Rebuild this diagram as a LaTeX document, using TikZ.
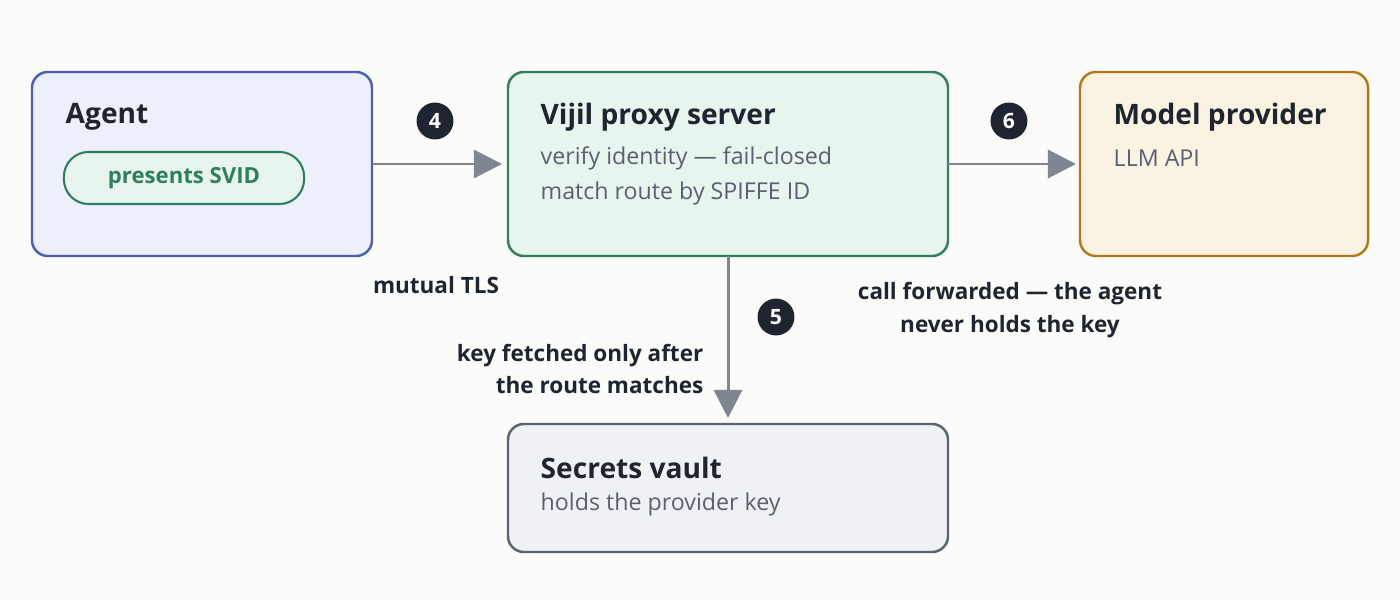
\documentclass[tikz,border=0pt]{standalone}
\usepackage{fontspec}
\setmainfont{Open Sans}
\usetikzlibrary{positioning,arrows.meta}
\definecolor{bgc}{HTML}{FBFBF9}
\definecolor{agentdraw}{HTML}{4A5FB5}
\definecolor{agentfill}{HTML}{EDF0FB}
\definecolor{proxydraw}{HTML}{2E8060}
\definecolor{proxyfill}{HTML}{E8F4EE}
\definecolor{modeldraw}{HTML}{B07A1A}
\definecolor{modelfill}{HTML}{FBF3E2}
\definecolor{vaultdraw}{HTML}{5A6275}
\definecolor{vaultfill}{HTML}{F0F1F5}
\definecolor{arrowc}{HTML}{80868F}
\definecolor{darkc}{HTML}{1F2530}
\definecolor{subc}{HTML}{5A6070}
\tikzset{
    box/.style={draw, line width=0.7pt, rounded corners=4.5pt, inner sep=0pt},
    title/.style={anchor=west, inner sep=0pt, font=\fontsize{8}{10}\selectfont\bfseries, text=darkc},
    sub/.style={anchor=west, inner sep=0pt, font=\fontsize{6.6}{10}\selectfont, text=subc},
    lbl/.style={font=\fontsize{6.4}{9.2}\selectfont\bfseries, text=darkc, align=center},
    flow/.style={-{Triangle[length=8pt,width=8pt]}, line width=0.85pt, arrowc},
    badge/.style={circle, fill=darkc, minimum size=10.5pt, inner sep=0pt, text=white,
        font=\fontsize{6}{6}\selectfont\bfseries},
}
\begin{document}
\begin{tikzpicture}[x=0.01cm, y=-0.01cm]
    \fill[bgc] (0,0) rectangle (1400,600);

    % Boxes
    \draw[box, agentdraw, fill=agentfill] (32,72) rectangle (372,256);
    \draw[box, proxydraw, fill=proxyfill] (508,72) rectangle (948,256);
    \draw[box, modeldraw, fill=modelfill] (1080,72) rectangle (1368,256);
    \draw[box, vaultdraw, fill=vaultfill] (508,424) rectangle (948,552);
    \coordinate (agentE) at (372,164);
    \coordinate (proxyW) at (502,164);
    \coordinate (proxyE) at (948,164);
    \coordinate (modelW) at (1076,164);
    \coordinate (proxyS) at (728,256);
    \coordinate (vaultN) at (728,418);

    % Texts
    \node[title] (agentT) at (65,117) {Agent};
    \node[draw=proxydraw, fill=proxyfill, line width=0.6pt, rounded corners=7pt,
        minimum width=2.4cm, minimum height=0.52cm, inner sep=0pt,
        font=\fontsize{6.3}{7}\selectfont\bfseries, text=proxydraw]
        (svid) at (184,178) {\raisebox{-0.3ex}{presents SVID}};
    \node[title] (proxyT) at (540,117) {Vijil proxy server};
    \node[sub] (proxyA) at (540,158) {verify identity — fail-closed};
    \node[sub] (proxyB) at (540,193) {match route by SPIFFE ID};
    \node[title] (modelT) at (1113,117) {Model provider};
    \node[sub] (modelA) at (1113,158) {LLM API};
    \node[title] (vaultT) at (540,468) {Secrets vault};
    \node[sub] (vaultA) at (540,504) {holds the provider key};

    % Connectors
    \draw[flow] (agentE) -- (proxyW);
    \draw[flow] (proxyE) -- (modelW);
    \draw[flow] (proxyS) -- (vaultN);

    % Badges and labels
    \node[badge] (b4) at (435,121) {4};
    \node[badge] (b6) at (1009,121) {6};
    \node[badge] (b5) at (776,317) {5};
    \node[lbl] (tls) at (436,285) {mutual TLS};
    \node[lbl] (fwd) at (1010,310) {call forwarded — the agent\\never holds the key};
    \node[lbl, align=right, anchor=east, inner sep=0pt] (key) at (704,369) {key fetched only after\\the route matches};
\end{tikzpicture}
\end{document}
